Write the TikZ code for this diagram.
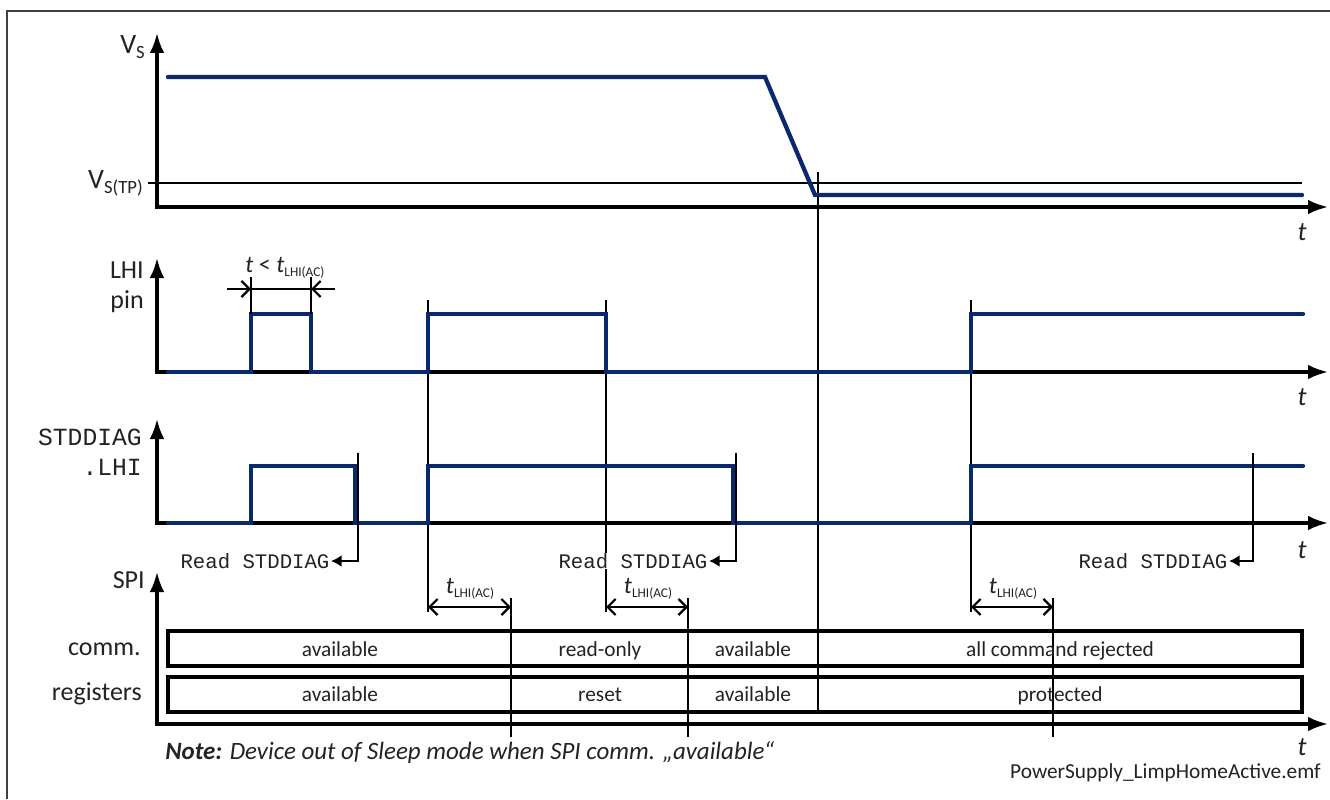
\documentclass[tikz,border=0pt]{standalone}
\usepackage{fontspec}
\setmainfont{Carlito}
\setmonofont{Liberation Mono}
\usetikzlibrary{arrows.meta}
\definecolor{sig}{RGB}{10,40,110}
\definecolor{txt}{RGB}{35,35,35}
\newcommand{\tlhisub}{\textit{t}\raisebox{-0.4ex}{\fontsize{10}{11}\selectfont LHI(AC)}}
\begin{document}
\begin{tikzpicture}[x=0.75pt,y=-0.75pt,
  axis/.style={line width=2.3pt,{Latex[length=15pt,width=11pt]}-{Latex[length=15pt,width=11pt]}},
  sigline/.style={line width=3.2pt,draw=sig,line cap=round,line join=miter},
  vline/.style={line width=1.7pt},
  dimarrow/.style={line width=1.7pt,{Straight Barb[length=6pt,width=12pt]}-{Straight Barb[length=6pt,width=12pt]}},
  readarrow/.style={line width=1.7pt,-{Latex[length=8pt,width=9pt]}},
  box/.style={line width=2.4pt},
  lbl/.style={font=\fontsize{19.5}{22}\selectfont,text=txt,inner sep=0pt},
  boxlbl/.style={font=\fontsize{16}{19}\selectfont,text=txt,inner sep=0pt,anchor=base},
  monolbl/.style={font=\ttfamily\fontsize{18.5}{22}\selectfont,text=txt,inner sep=0pt,align=right},
  readlbl/.style={font=\ttfamily\fontsize{15.5}{18}\selectfont,text=txt,inner sep=0pt,fill=white,inner xsep=1pt},
  tlab/.style={font=\fontsize{20}{22}\selectfont\itshape,text=txt,inner sep=0pt},
  dimlbl/.style={font=\fontsize{18}{20}\selectfont,text=txt,inner sep=0pt}]
\useasboundingbox (0,0) rectangle (1330,799);
\fill[white] (0,0) rectangle (1330,799);
\draw[line width=1.2pt,black!75] (7,799) -- (7,11) -- (1330,11);

% axes
\draw[axis] (157,33) -- (157,207) -- (1328,207);
\draw[axis] (157,258) -- (157,372) -- (1328,372);
\draw[axis] (157,419) -- (157,523) -- (1328,523);
\draw[axis] (157,572) -- (157,724) -- (1328,724);

\node[tlab] (t1) at (1302,232) {t};
\node[tlab] (t2) at (1302,397) {t};
\node[tlab] (t3) at (1302,550) {t};
\node[tlab] (t4) at (1302,747) {t};

% axis labels
\node[lbl,anchor=east] (vs) at (145,47) {\fontsize{21}{24}\selectfont V\raisebox{-0.35ex}{\fontsize{14}{16}\selectfont S}};
\node[lbl,anchor=east] (vstp) at (143,183) {\fontsize{21}{24}\selectfont V\raisebox{-0.35ex}{\fontsize{14}{16}\selectfont S(TP)}};
\node[lbl,anchor=east] (lhi) at (144,270) {LHI};
\node[lbl,anchor=east] (pin) at (144,302) {pin};
\node[monolbl,anchor=east] (stddiag) at (142,437) {STDDIAG};
\node[monolbl,anchor=east] (dotlhi) at (142,467) {.LHI};
\node[lbl,anchor=east] (spi) at (145,580) {SPI};
\node[lbl,anchor=east] (comm) at (141,649) {comm.};
\node[lbl,anchor=east] (regs) at (142,694) {registers};

% threshold
\draw[vline] (148,183) -- (1302,183);

% marker verticals
\draw[vline] (428,300) -- (428,612);
\draw[vline] (606,300) -- (606,612);
\draw[vline] (971,300) -- (971,612);
\draw[vline] (511,598) -- (511,737);
\draw[vline] (688,598) -- (688,737);
\draw[vline] (1053,598) -- (1053,737);
\draw[vline] (818,172) -- (818,712);

% signals
\draw[sigline] (168,77) -- (765,77) -- (815,195) -- (1302,195);
\draw[sigline] (168,372) -- (251,372) -- (251,314) -- (311,314) -- (311,372) -- (428,372) -- (428,314) -- (606,314) -- (606,372) -- (971,372) -- (971,314) -- (1303,314);
\draw[sigline] (168,523) -- (251,523) -- (251,466) -- (355,466) -- (355,523) -- (428,523) -- (428,466) -- (733,466) -- (733,523) -- (971,523) -- (971,466) -- (1303,466);

% t < tLHI(AC)
\draw[vline] (251,277) -- (251,314);
\draw[vline] (311,277) -- (311,314);
\draw[vline] (251,289) -- (311,289);
\draw[vline,-{Straight Barb[length=6pt,width=12pt]}] (227,289) -- (251,289);
\draw[vline,-{Straight Barb[length=6pt,width=12pt]}] (335,289) -- (311,289);
\node[dimlbl] (tlt) at (285,268) {\textit{t} < \tlhisub};

% Read STDDIAG
\node[readlbl,anchor=east] (rd1) at (331,561) {Read STDDIAG};
\node[readlbl,anchor=east] (rd2) at (709,561) {Read STDDIAG};
\node[readlbl,anchor=east] (rd3) at (1229,561) {Read STDDIAG};
\draw[readarrow] (358,453) -- (358,561) -- (rd1.east);
\draw[readarrow] (736,453) -- (736,561) -- (rd2.east);
\draw[readarrow] (1253,453) -- (1253,561) -- (rd3.east);

% tLHI(AC) dimensions
\draw[dimarrow] (428,607) -- (511,607);
\draw[dimarrow] (606,607) -- (688,607);
\draw[dimarrow] (971,607) -- (1053,607);
\node[dimlbl] (d1) at (470,589) {\tlhisub};
\node[dimlbl] (d2) at (648,589) {\tlhisub};
\node[dimlbl] (d3) at (1013,589) {\tlhisub};

% SPI boxes
\draw[box] (168,631) rectangle (1302,666);
\draw[box] (168,677) rectangle (1302,712);
\node[boxlbl] (c1) at (340,656) {available};
\node[boxlbl] (c2) at (600,656) {read-only};
\node[boxlbl] (c3) at (753,656) {available};
\node[boxlbl] (c4) at (1060,656) {all command rejected};
\node[boxlbl] (r1) at (340,701) {available};
\node[boxlbl] (r2) at (600,701) {reset};
\node[boxlbl] (r3) at (753,701) {available};
\node[boxlbl] (r4) at (1060,701) {protected};

% notes
\node[anchor=west,font=\fontsize{18.7}{21}\selectfont\itshape,text=txt,inner sep=0pt] (note) at (165,753) {\textbf{Note:} Device out of Sleep mode when SPI comm. „available“};
\node[anchor=east,font=\fontsize{16}{19}\selectfont,text=txt,inner sep=0pt] (fname) at (1321,773) {PowerSupply\_LimpHomeActive.emf};
\end{tikzpicture}
\end{document}
